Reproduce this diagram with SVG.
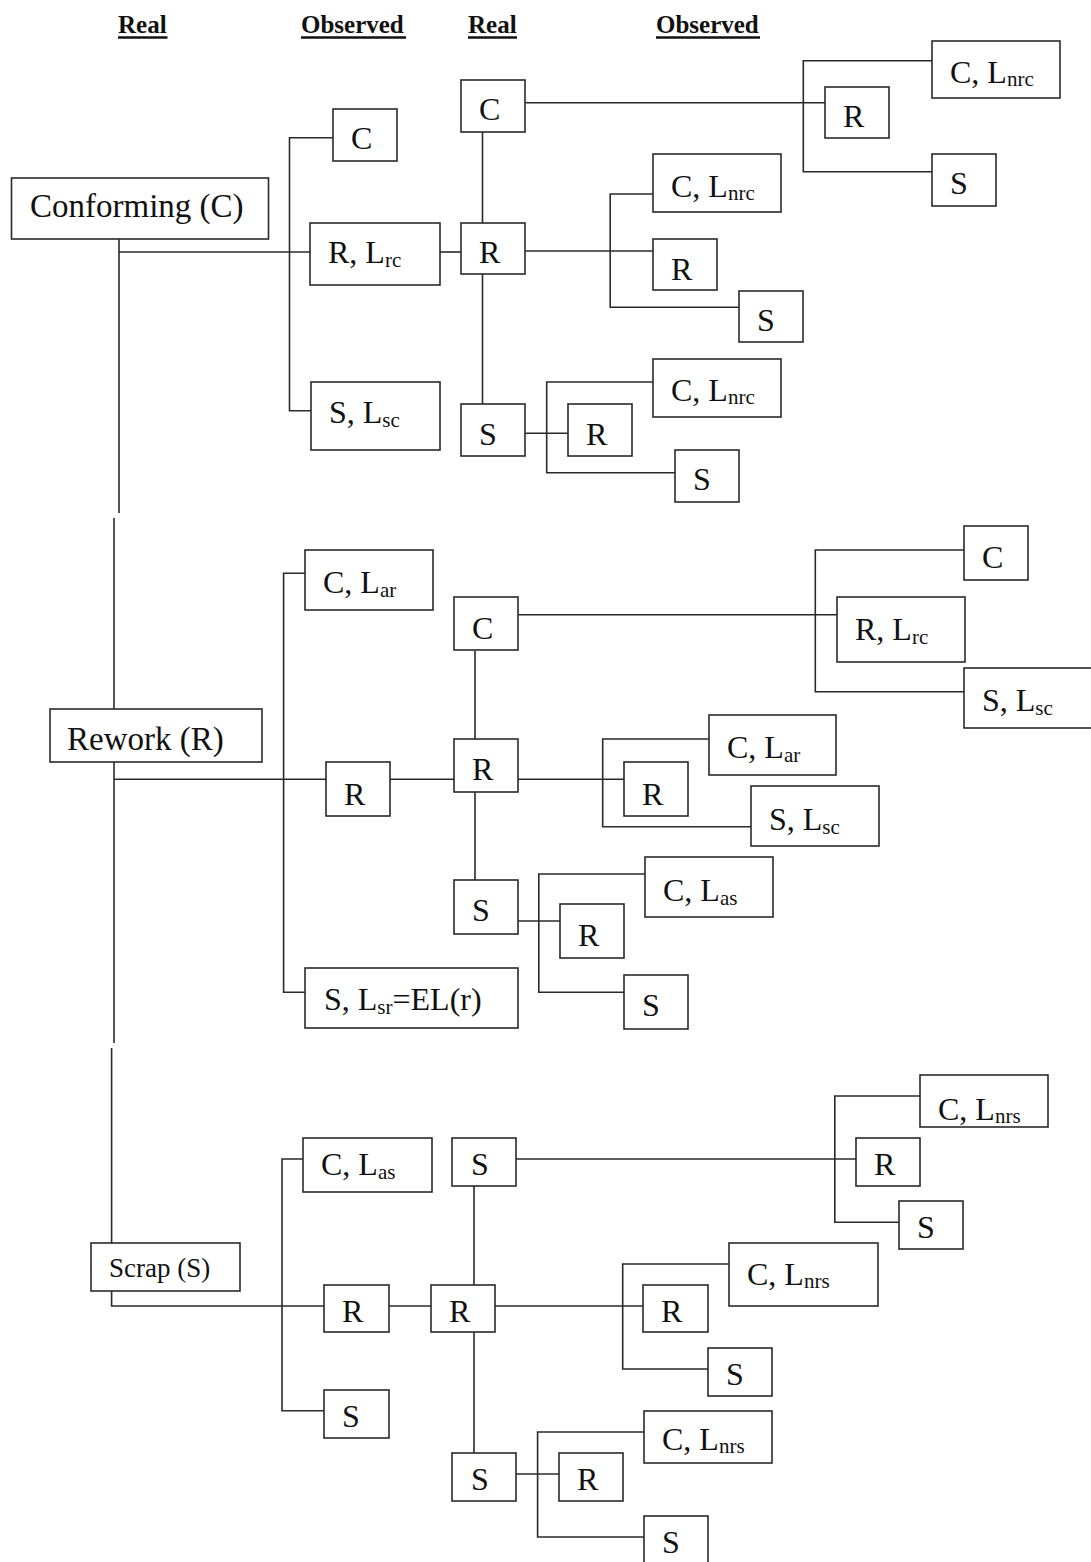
<svg xmlns="http://www.w3.org/2000/svg" width="1091" height="1562" viewBox="0 0 1091 1562">
<style>
.box{fill:#fff;stroke:#2a2a2a;stroke-width:1.6}
.ln{fill:none;stroke:#2a2a2a;stroke-width:1.6}
.ul{stroke:#111;stroke-width:2.4}
text{font-family:"Liberation Serif","Times New Roman",serif;fill:#111}
.lbl{font-size:32px}
.big{font-size:33px}
.sm{font-size:27px}
.sub{font-size:21px}
.hdr{font-size:25px;font-weight:bold}
</style>
<rect width="1091" height="1562" fill="#fff"/>
<g id="headers">
<text class="hdr" x="118" y="33">Real</text>
<text class="hdr" x="301" y="33">Observed</text>
<text class="hdr" x="468" y="33">Real</text>
<text class="hdr" x="656" y="33">Observed</text>
<line class="ul" x1="118" y1="37.5" x2="167.5" y2="37.5"/>
<line class="ul" x1="301" y1="37.5" x2="406" y2="37.5"/>
<line class="ul" x1="468" y1="37.5" x2="517" y2="37.5"/>
<line class="ul" x1="656" y1="37.5" x2="760" y2="37.5"/>
</g>
<g id="connectors">
<!-- top section -->
<path class="ln" d="M119,239 V513"/>
<path class="ln" d="M119,252 H310"/>
<path class="ln" d="M333,137.7 H289.5 V410.7 H311"/>
<path class="ln" d="M440,252 H461"/>
<path class="ln" d="M482.5,132 V223 M482.5,274 V404"/>
<path class="ln" d="M525,102.7 H825"/>
<path class="ln" d="M932,60.7 H803.3 V171.7 H932"/>
<path class="ln" d="M525,251 H653"/>
<path class="ln" d="M653,194 H610.2 V307.3 H739"/>
<path class="ln" d="M525,433.3 H568"/>
<path class="ln" d="M653,382 H546.7 V472.7 H675"/>
<!-- middle section -->
<path class="ln" d="M114,518 V709"/>
<path class="ln" d="M114,762 V1043"/>
<path class="ln" d="M114,779.3 H326"/>
<path class="ln" d="M305,573.3 H283.6 V992.3 H305"/>
<path class="ln" d="M390,779.3 H454"/>
<path class="ln" d="M475,650.7 V739 M475,792.3 V880"/>
<path class="ln" d="M518,614.7 H837"/>
<path class="ln" d="M964,550 H815.3 V691.7 H964"/>
<path class="ln" d="M518,779.3 H624"/>
<path class="ln" d="M709,739 H602.7 V826.7 H751"/>
<path class="ln" d="M518,921 H560"/>
<path class="ln" d="M645,874 H538.8 V992.3 H624"/>
<!-- bottom section -->
<path class="ln" d="M111.6,1048 V1243"/>
<path class="ln" d="M111.6,1291 V1306 H324"/>
<path class="ln" d="M303,1159 H282 V1410.7 H324"/>
<path class="ln" d="M389,1306 H431"/>
<path class="ln" d="M474,1186 V1285 M474,1332 V1453"/>
<path class="ln" d="M516,1159 H856"/>
<path class="ln" d="M920,1096 H834.8 V1222.3 H899"/>
<path class="ln" d="M495,1306 H643"/>
<path class="ln" d="M729,1264 H622.7 V1369 H708"/>
<path class="ln" d="M516,1474 H559"/>
<path class="ln" d="M644,1432 H537.6 V1537 H644"/>
</g>
<!-- top section nodes -->
<g id="conforming"><rect class="box" x="11.5" y="178" width="257" height="61"/><text class="big" x="30" y="217">Conforming (C)</text></g>
<g id="obsC1"><rect class="box" x="333" y="109" width="64" height="52"/><text class="lbl" x="351" y="149">C</text></g>
<g id="obsR1"><rect class="box" x="310" y="223" width="130" height="62"/><text class="lbl" x="328" y="263">R, L<tspan class="sub" dy="4">rc</tspan></text></g>
<g id="obsS1"><rect class="box" x="311" y="382" width="129" height="68"/><text class="lbl" x="329" y="423">S, L<tspan class="sub" dy="4">sc</tspan></text></g>
<g id="realC1"><rect class="box" x="461" y="80" width="64" height="52"/><text class="lbl" x="479" y="120">C</text></g>
<g id="realR1"><rect class="box" x="461" y="223" width="64" height="51"/><text class="lbl" x="479" y="263">R</text></g>
<g id="realS1"><rect class="box" x="461" y="404" width="64" height="52"/><text class="lbl" x="479" y="445">S</text></g>
<g id="ccC"><rect class="box" x="932" y="41" width="128" height="57"/><text class="lbl" x="950" y="83">C, L<tspan class="sub" dy="3">nrc</tspan></text></g>
<g id="ccR"><rect class="box" x="825" y="87" width="64" height="51"/><text class="lbl" x="843" y="127">R</text></g>
<g id="ccS"><rect class="box" x="932" y="154" width="64" height="52"/><text class="lbl" x="950" y="194">S</text></g>
<g id="crC"><rect class="box" x="653" y="154" width="128" height="58"/><text class="lbl" x="671" y="197">C, L<tspan class="sub" dy="3">nrc</tspan></text></g>
<g id="crR"><rect class="box" x="653" y="239" width="64" height="51"/><text class="lbl" x="671" y="280">R</text></g>
<g id="crS"><rect class="box" x="739" y="291" width="64" height="51"/><text class="lbl" x="757" y="331">S</text></g>
<g id="csC"><rect class="box" x="653" y="359" width="128" height="58"/><text class="lbl" x="671" y="401">C, L<tspan class="sub" dy="3">nrc</tspan></text></g>
<g id="csR"><rect class="box" x="568" y="404" width="64" height="52"/><text class="lbl" x="586" y="445">R</text></g>
<g id="csS"><rect class="box" x="675" y="450" width="64" height="52"/><text class="lbl" x="693" y="490">S</text></g>
<!-- middle section nodes -->
<g id="rework"><rect class="box" x="50" y="709" width="212" height="53"/><text class="big" x="67" y="750">Rework (R)</text></g>
<g id="obsC2"><rect class="box" x="305" y="550" width="128" height="60"/><text class="lbl" x="323" y="593">C, L<tspan class="sub" dy="4">ar</tspan></text></g>
<g id="obsR2"><rect class="box" x="326" y="762" width="64" height="54"/><text class="lbl" x="344" y="805">R</text></g>
<g id="obsS2"><rect class="box" x="305" y="968" width="213" height="60"/><text class="lbl" x="324" y="1010">S, L<tspan class="sub" dy="4">sr</tspan><tspan dy="-4">=EL(r)</tspan></text></g>
<g id="realC2"><rect class="box" x="454" y="597" width="64" height="53"/><text class="lbl" x="472" y="639">C</text></g>
<g id="realR2"><rect class="box" x="454" y="739" width="64" height="53"/><text class="lbl" x="472" y="780">R</text></g>
<g id="realS2"><rect class="box" x="454" y="880" width="64" height="54"/><text class="lbl" x="472" y="921">S</text></g>
<g id="mcC"><rect class="box" x="964" y="526" width="64" height="54"/><text class="lbl" x="982" y="568">C</text></g>
<g id="mcR"><rect class="box" x="837" y="597" width="128" height="65"/><text class="lbl" x="855" y="640">R, L<tspan class="sub" dy="4">rc</tspan></text></g>
<g id="mcS"><rect class="box" x="964" y="668" width="140" height="60"/><text class="lbl" x="982" y="711">S, L<tspan class="sub" dy="4">sc</tspan></text></g>
<g id="mrC"><rect class="box" x="709" y="715" width="127" height="60"/><text class="lbl" x="727" y="758">C, L<tspan class="sub" dy="4">ar</tspan></text></g>
<g id="mrR"><rect class="box" x="624" y="762" width="64" height="54"/><text class="lbl" x="642" y="805">R</text></g>
<g id="mrS"><rect class="box" x="751" y="786" width="128" height="60"/><text class="lbl" x="769" y="830">S, L<tspan class="sub" dy="4">sc</tspan></text></g>
<g id="msC"><rect class="box" x="645" y="857" width="128" height="60"/><text class="lbl" x="663" y="901">C, L<tspan class="sub" dy="4">as</tspan></text></g>
<g id="msR"><rect class="box" x="560" y="904" width="64" height="54"/><text class="lbl" x="578" y="946">R</text></g>
<g id="msS"><rect class="box" x="624" y="975" width="64" height="54"/><text class="lbl" x="642" y="1016">S</text></g>
<!-- bottom section nodes -->
<g id="scrap"><rect class="box" x="91" y="1243" width="149" height="48"/><text class="sm" x="109" y="1277">Scrap (S)</text></g>
<g id="obsC3"><rect class="box" x="303" y="1138" width="129" height="54"/><text class="lbl" x="321" y="1175">C, L<tspan class="sub" dy="4">as</tspan></text></g>
<g id="obsR3"><rect class="box" x="324" y="1285" width="65" height="47"/><text class="lbl" x="342" y="1322">R</text></g>
<g id="obsS3"><rect class="box" x="324" y="1390" width="65" height="48"/><text class="lbl" x="342" y="1427">S</text></g>
<g id="realS3"><rect class="box" x="452" y="1138" width="64" height="48"/><text class="lbl" x="471" y="1175">S</text></g>
<g id="realR3"><rect class="box" x="431" y="1285" width="64" height="47"/><text class="lbl" x="449" y="1322">R</text></g>
<g id="realS3b"><rect class="box" x="452" y="1453" width="64" height="48"/><text class="lbl" x="471" y="1490">S</text></g>
<g id="scC"><rect class="box" x="920" y="1075" width="128" height="52"/><text class="lbl" x="938" y="1120">C, L<tspan class="sub" dy="3">nrs</tspan></text></g>
<g id="scR"><rect class="box" x="856" y="1138" width="64" height="48"/><text class="lbl" x="874" y="1175">R</text></g>
<g id="scS"><rect class="box" x="899" y="1201" width="64" height="48"/><text class="lbl" x="917" y="1238">S</text></g>
<g id="rrC"><rect class="box" x="729" y="1243" width="149" height="63"/><text class="lbl" x="747" y="1285">C, L<tspan class="sub" dy="3">nrs</tspan></text></g>
<g id="rrR"><rect class="box" x="643" y="1285" width="65" height="47"/><text class="lbl" x="661" y="1322">R</text></g>
<g id="rrS"><rect class="box" x="708" y="1348" width="64" height="48"/><text class="lbl" x="726" y="1385">S</text></g>
<g id="rsC"><rect class="box" x="644" y="1411" width="128" height="52"/><text class="lbl" x="662" y="1450">C, L<tspan class="sub" dy="3">nrs</tspan></text></g>
<g id="rsR"><rect class="box" x="559" y="1453" width="64" height="48"/><text class="lbl" x="577" y="1490">R</text></g>
<g id="rsS"><rect class="box" x="644" y="1516" width="64" height="50"/><text class="lbl" x="662" y="1553">S</text></g>
</svg>
